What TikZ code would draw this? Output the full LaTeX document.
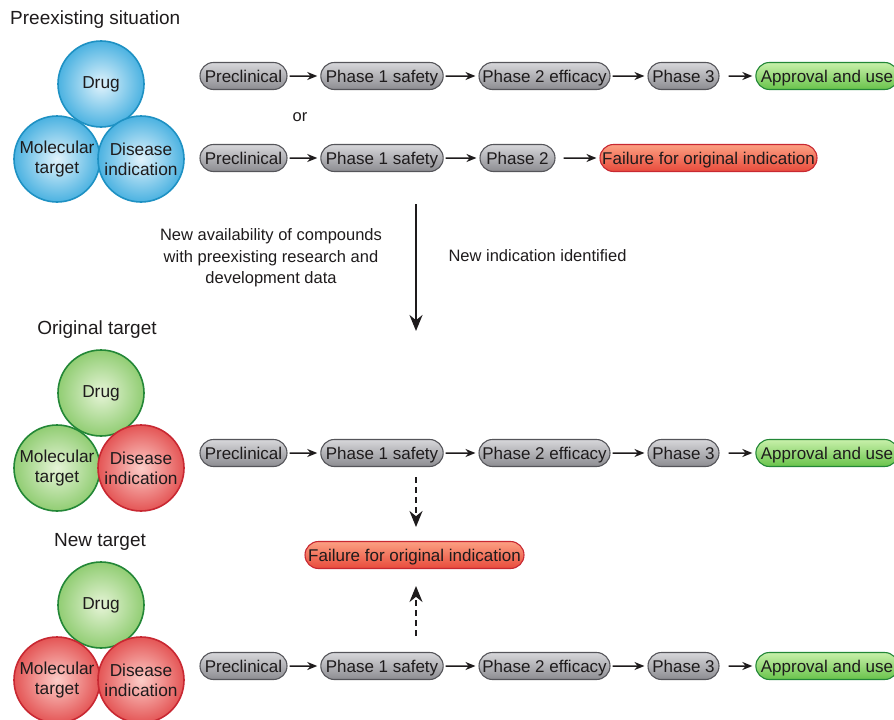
\documentclass[tikz,border=0pt]{standalone}
\usepackage{fontspec}
\setmainfont{Liberation Sans}
\usetikzlibrary{arrows.meta,shapes.misc}
\definecolor{txt}{RGB}{30,27,28}
\definecolor{bluebd}{RGB}{30,145,195}
\definecolor{bluein}{RGB}{225,243,252}
\definecolor{blueout}{RGB}{75,178,225}
\definecolor{greenbd}{RGB}{35,135,55}
\definecolor{greenin}{RGB}{230,244,215}
\definecolor{greenout}{RGB}{145,205,115}
\definecolor{redbd}{RGB}{200,40,50}
\definecolor{redin}{RGB}{252,205,200}
\definecolor{redout}{RGB}{228,85,85}
\definecolor{graytop}{RGB}{215,215,218}
\definecolor{graybot}{RGB}{140,140,145}
\definecolor{graybd}{RGB}{85,85,90}
\definecolor{gptop}{RGB}{200,240,170}
\definecolor{gpbot}{RGB}{105,195,75}
\definecolor{rptop}{RGB}{252,160,130}
\definecolor{rpbot}{RGB}{232,75,60}
\tikzset{
  body/.style={font=\fontsize{16.5}{21.5}\selectfont, text=txt},
  heading/.style={font=\fontsize{19}{22}\selectfont, text=txt},
  circ/.style={circle, minimum size=86pt, inner sep=0pt, align=center, line width=1.6pt,
    font=\fontsize{17.3}{20}\selectfont, text=txt},
  bluecirc/.style={circ, draw=bluebd, inner color=bluein, outer color=blueout},
  greencirc/.style={circ, draw=greenbd, inner color=greenin, outer color=greenout},
  redcirc/.style={circ, draw=redbd, inner color=redin, outer color=redout},
  pill/.style={rounded rectangle, line width=1.1pt, minimum height=27pt, inner xsep=3pt,
    inner ysep=0pt, text height=13pt, text depth=1pt,
    font=\fontsize{17}{19}\selectfont, text=txt},
  graypill/.style={pill, draw=graybd, top color=graytop, bottom color=graybot},
  greenpill/.style={pill, draw=greenbd, top color=gptop, bottom color=gpbot},
  redpill/.style={pill, draw=redbd, top color=rptop, bottom color=rpbot},
  flow/.style={-{Stealth[length=10pt,width=8pt]}, line width=1.5pt, draw=txt,
    shorten <=2pt, shorten >=3pt},
  bigarrow/.style={-{Stealth[length=16pt,width=13pt]}, line width=2.2pt, draw=txt},
  dasharrow/.style={-{Stealth[length=16pt,width=13pt]}, line width=2.2pt, draw=txt,
    dash pattern=on 6pt off 4pt}
}
\begin{document}
\begin{tikzpicture}[x=1pt,y=-1pt]
\useasboundingbox (0,0) rectangle (894,720);

% ---------- Preexisting situation ----------
\node[heading, anchor=west, inner sep=0pt] (h1) at (10,20) {Preexisting situation};
\node[bluecirc] (d1) at (101,84) {Drug};
\node[bluecirc] (m1) at (57,159) {Molecular\\target};
\node[bluecirc] (i1) at (141,159) {Disease\\indication};

\node[graypill, minimum width=93pt]  (a1) at (243.5,76) {Preclinical};
\node[graypill, minimum width=122pt] (b1) at (382,76) {Phase 1 safety};
\node[graypill, minimum width=137pt] (c1) at (544.5,76) {Phase 2 efficacy};
\node[graypill, minimum width=77pt]  (e1) at (683.5,76) {Phase 3};
\node[greenpill, minimum width=132pt] (f1) at (827,76) {Approval and use};
\draw[flow] (a1) -- (b1);
\draw[flow] (b1) -- (c1);
\draw[flow] (c1) -- (e1);
\draw[flow, shorten <=9pt] (e1) -- (f1);

\node[body] (or) at (300,117) {or};

\node[graypill, minimum width=93pt]  (a2) at (243.5,158) {Preclinical};
\node[graypill, minimum width=122pt] (b2) at (382,158) {Phase 1 safety};
\node[graypill, minimum width=81pt]  (c2) at (517.5,158) {Phase 2};
\node[redpill, minimum width=223pt]  (f2) at (708.5,158) {Failure for original indication};
\draw[flow] (a2) -- (b2);
\draw[flow] (b2) -- (c2);
\draw[flow, shorten <=8pt] (c2) -- (f2);

% ---------- transition ----------
\coordinate (t0) at (416,204);
\coordinate (t1) at (416,331);
\draw[bigarrow] (t0) -- (t1);
\node[body, align=center] (avail) at (271,258) {New availability of compounds\\with preexisting research and\\development data};
\node[body, anchor=west] (newind) at (445,256) {New indication identified};

% ---------- Original target ----------
\node[heading] (h2) at (97,330) {Original target};
\node[greencirc] (d3) at (101,393) {Drug};
\node[greencirc] (m3) at (57,468) {Molecular\\target};
\node[redcirc]   (i3) at (141,468) {Disease\\indication};

\node[graypill, minimum width=93pt]  (a3) at (243.5,453) {Preclinical};
\node[graypill, minimum width=122pt] (b3) at (382,453) {Phase 1 safety};
\node[graypill, minimum width=137pt] (c3) at (544.5,453) {Phase 2 efficacy};
\node[graypill, minimum width=77pt]  (e3) at (683.5,453) {Phase 3};
\node[greenpill, minimum width=132pt] (f3) at (827,453) {Approval and use};
\draw[flow] (a3) -- (b3);
\draw[flow] (b3) -- (c3);
\draw[flow] (c3) -- (e3);
\draw[flow, shorten <=9pt] (e3) -- (f3);

% ---------- middle failure ----------
\node[redpill, minimum width=225pt] (fm) at (414.5,555) {Failure for original indication};
\coordinate (u0) at (416,477);
\coordinate (u0t) at (416,527);
\coordinate (u1) at (416,636);
\coordinate (u1t) at (416,586);
\draw[dasharrow] (u0) -- (u0t);
\draw[dasharrow] (u1) -- (u1t);

% ---------- New target ----------
\node[heading] (h3) at (100,542) {New target};
\node[greencirc] (d4) at (101,605) {Drug};
\node[redcirc]   (m4) at (57,680) {Molecular\\target};
\node[redcirc]   (i4) at (141,680) {Disease\\indication};

\node[graypill, minimum width=93pt]  (a4) at (243.5,666) {Preclinical};
\node[graypill, minimum width=122pt] (b4) at (382,666) {Phase 1 safety};
\node[graypill, minimum width=137pt] (c4) at (544.5,666) {Phase 2 efficacy};
\node[graypill, minimum width=77pt]  (e4) at (683.5,666) {Phase 3};
\node[greenpill, minimum width=132pt] (f4) at (827,666) {Approval and use};
\draw[flow] (a4) -- (b4);
\draw[flow] (b4) -- (c4);
\draw[flow] (c4) -- (e4);
\draw[flow, shorten <=9pt] (e4) -- (f4);
\end{tikzpicture}
\end{document}
